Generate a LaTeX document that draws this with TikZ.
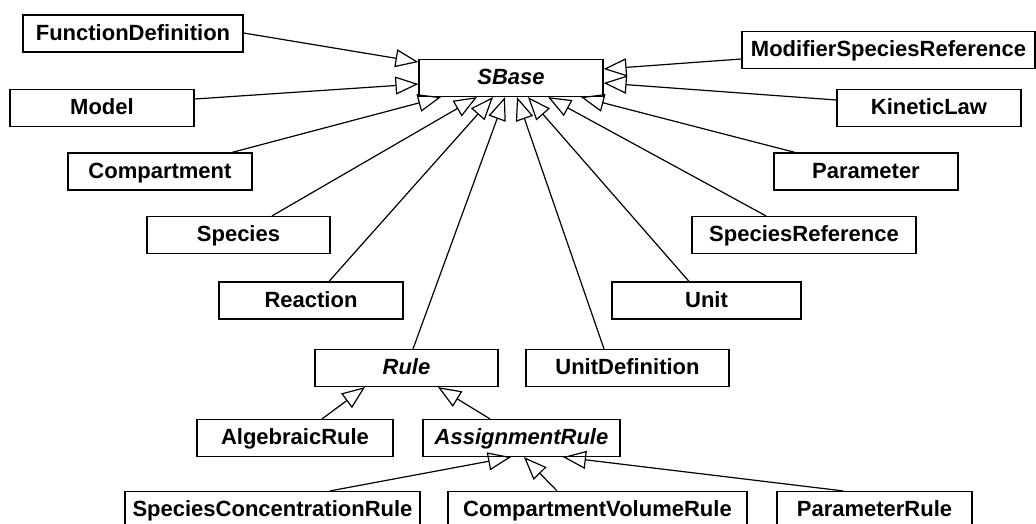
\documentclass[tikz,border=0pt]{standalone}
\usepackage{fontspec}
\setmainfont{Liberation Sans}
\usetikzlibrary{arrows.meta}
\tikzset{
  cls/.style={draw, line width=1.2pt, fill=white, minimum height=37pt, inner sep=0pt,
    text height=15.5pt, text depth=2pt,
    font=\fontsize{22}{24}\selectfont\bfseries},
  abs/.style={cls, font=\fontsize{22}{24}\selectfont\bfseries\itshape},
  gen/.style={line width=1.2pt, -{Triangle[open, length=23pt, width=18pt, line width=1.2pt]}}
}
\begin{document}
\begin{tikzpicture}[x=1pt, y=-1pt]
\useasboundingbox (0,0) rectangle (1036,523);
% nodes
\node[cls, minimum width=220pt] (fd) at (133,33.5) {FunctionDefinition};
\node[cls, minimum width=184pt] (model) at (102,108) {Model};
\node[abs, minimum width=184pt] (sbase) at (511,78) {SBase};
\node[cls, minimum width=293pt] (msr) at (888.5,50) {ModifierSpeciesReference};
\node[cls, minimum width=184pt] (kl) at (929,108) {KineticLaw};
\node[cls, minimum width=184pt] (comp) at (160,171.5) {Compartment};
\node[cls, minimum width=184pt] (param) at (866,171.5) {Parameter};
\node[cls, minimum width=183pt] (species) at (238.5,235) {Species};
\node[cls, minimum width=224pt] (sr) at (804,235) {SpeciesReference};
\node[cls, minimum width=184pt] (reaction) at (311,300.5) {Reaction};
\node[cls, minimum width=189pt] (unit) at (706.5,300.5) {Unit};
\node[abs, minimum width=183pt] (rule) at (406.5,368) {Rule};
\node[cls, minimum width=203pt] (ud) at (627.5,368) {UnitDefinition};
\node[cls, minimum width=196pt] (ar) at (295,438) {AlgebraicRule};
\node[abs, minimum width=197pt] (asr) at (521.5,438) {AssignmentRule};
\node[cls, minimum width=295pt] (scr) at (272.5,510) {SpeciesConcentrationRule};
\node[cls, minimum width=299pt] (cvr) at (597.5,510) {CompartmentVolumeRule};
\node[cls, minimum width=195pt] (pr) at (874.5,510) {ParameterRule};
% generalisations
\draw[gen] (fd.east |- 0,33) -- (sbase.west |- 0,62);
\draw[gen] (model.east |- 0,99) -- (sbase.west |- 0,84);
\draw[gen] (msr.west |- 0,59) -- (sbase.east |- 0,69);
\draw[gen] (kl.west |- 0,100) -- (sbase.east |- 0,83);
\draw[gen] (232,0 |- comp.north) -- (441,0 |- sbase.south);
\draw[gen] (272,0 |- species.north) -- (477,0 |- sbase.south);
\draw[gen] (329,0 |- reaction.north) -- (493,0 |- sbase.south);
\draw[gen] (413,0 |- rule.north) -- (505,0 |- sbase.south);
\draw[gen] (604,0 |- ud.north) -- (517,0 |- sbase.south);
\draw[gen] (689,0 |- unit.north) -- (528,0 |- sbase.south);
\draw[gen] (766,0 |- sr.north) -- (548,0 |- sbase.south);
\draw[gen] (795,0 |- param.north) -- (581,0 |- sbase.south);
\draw[gen] (322,0 |- ar.north) -- (365,0 |- rule.south);
\draw[gen] (490,0 |- asr.north) -- (438,0 |- rule.south);
\draw[gen] (330,0 |- scr.north) -- (511,0 |- asr.south);
\draw[gen] (557,0 |- cvr.north) -- (524,0 |- asr.south);
\draw[gen] (843,0 |- pr.north) -- (563,0 |- asr.south);
\end{tikzpicture}
\end{document}
